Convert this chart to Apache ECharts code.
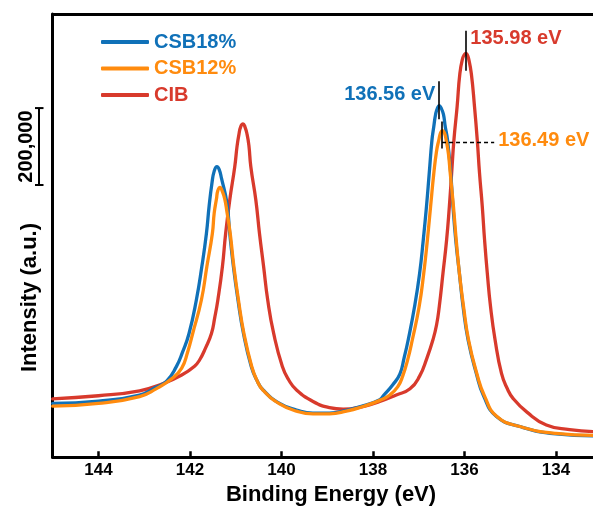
<!DOCTYPE html>
<html>
<head>
<meta charset="utf-8">
<script src="https://cdn.jsdelivr.net/npm/echarts@6/dist/echarts.min.js"></script>
<style>html,body{margin:0;padding:0;background:#fff;}#c{width:593px;height:510px;}</style>
</head>
<body>
<div id="c"></div>
<script>
// ---- data (binding energy in eV, intensity in counts) ----
const seriesNames = ['CSB18%', 'CSB12%', 'CIB'];
const xTicks = [134, 136, 138, 140, 142, 144];

const cibEnergy = [145.00,144.00,143.10,142.60,142.18,141.90,141.79,141.66,141.53,141.46,141.39,141.29,141.22,141.13,141.02,140.97,140.93,140.89,140.84,140.80,140.75,140.71,140.67,140.56,140.48,140.39,140.30,140.17,139.98,139.84,139.67,139.31,138.95,138.65,138.22,137.85,137.49,137.19,136.98,136.82,136.69,136.61,136.55,136.47,136.39,136.33,136.28,136.23,136.16,136.10,136.04,136.00,135.97,135.94,135.91,135.85,135.78,135.72,135.67,135.61,135.56,135.50,135.43,135.33,135.19,135.07,134.93,134.64,134.21,133.70,133.19];
const cibIntensity = [152000,160000,173000,191000,214000,237000,253000,284000,322000,362000,409000,496000,582000,669000,756000,809000,839000,860000,867000,860000,839000,809000,756000,669000,582000,496000,409000,322000,236000,201000,175000,145000,129000,125000,132000,145000,162000,178000,211000,258000,305000,344000,392000,478000,565000,652000,738000,825000,912000,998000,1037000,1047000,1050000,1047000,1037000,998000,912000,825000,738000,652000,565000,478000,392000,305000,218000,180000,152000,118000,84000,72000,67000];

const csb18Energy = [145.00,144.00,143.10,142.74,142.51,142.30,142.16,142.02,141.86,141.74,141.64,141.58,141.52,141.47,141.41,141.36,141.31,141.19,141.13,141.05,140.95,140.83,140.66,140.54,140.40,140.04,139.67,139.31,138.95,138.58,138.22,137.85,137.76,137.57,137.41,137.32,137.23,137.09,136.98,136.90,136.83,136.77,136.71,136.67,136.63,136.59,136.55,136.51,136.46,136.42,136.37,136.30,136.25,136.19,136.11,136.03,135.92,135.74,135.58,135.30,134.79,134.00,133.19];
const csb18Intensity = [140000,146000,162000,182000,198000,235000,274000,322000,409000,496000,582000,654000,712000,744000,756000,748000,725000,660000,582000,496000,409000,322000,236000,201000,175000,140000,123000,115000,115000,122000,134000,150000,162000,188000,217000,258000,305000,392000,478000,565000,652000,738000,825000,860000,892000,908000,914000,908000,892000,860000,825000,738000,652000,565000,478000,392000,305000,218000,159000,106000,80000,61000,56000];

const csb12Energy = [145.00,144.00,143.10,142.74,142.40,142.18,142.05,141.94,141.75,141.63,141.51,141.47,141.42,141.39,141.34,141.30,141.24,141.19,141.12,141.04,140.94,140.82,140.65,140.54,140.40,140.04,139.67,139.31,138.95,138.58,138.22,137.85,137.63,137.46,137.35,137.24,137.14,136.99,136.89,136.81,136.74,136.67,136.61,136.56,136.52,136.48,136.44,136.40,136.35,136.31,136.24,136.18,136.11,136.02,135.91,135.73,135.56,135.29,134.79,134.00,133.19];
const csb12Intensity = [133000,140000,158000,178000,204000,232000,274000,322000,409000,496000,582000,635000,672000,694000,702000,694000,672000,637000,582000,496000,409000,322000,236000,201000,174000,139000,120000,113000,113000,120000,132000,148000,162000,183000,211000,254000,305000,392000,478000,565000,652000,738000,796000,825000,844000,849000,844000,825000,789000,738000,652000,565000,478000,392000,305000,218000,159000,106000,80000,62000,57000];

// peak markers: [energy, label, intensity low, intensity high]
const peakCIB = [135.98, '135.98 eV', 1005000, 1109000];
const peak18 = [136.56, '136.56 eV', 879000, 978000];
const peak12 = [136.49, '136.49 eV', 803000, 873000];
const peak12Leader = [136.49, 135.35, 818000];
const scaleBar = [708000, 908000, '200,000'];

const COLORS = { 'CSB18%': '#1071B8', 'CSB12%': '#FF8B0E', 'CIB': '#D83A2C' };
const FONT = '"Liberation Sans", Arial, sans-serif';

function zip(a, b) { return a.map((v, i) => [v, b[i]]); }
function vline(e, lo, hi) {
  return [{ coord: [e, lo] }, { coord: [e, hi] }];
}

const chart = echarts.init(document.getElementById('c'), null, { renderer: 'canvas' });

const markBase = {
  silent: true, symbol: ['none', 'none'], label: { show: false },
  lineStyle: { color: '#000', width: 1.6, type: 'solid' }, emphasis: { disabled: true }, animation: false
};

function lineSeries(name, e, v, extra) {
  return Object.assign({
    name: name, type: 'line', data: zip(e, v), smooth: true, showSymbol: false,
    lineStyle: { width: 3.3, color: COLORS[name], cap: 'round', join: 'round' }, itemStyle: { color: COLORS[name] }
  }, extra);
}

const option = {
  animation: false,
  grid: { left: 52.7, right: 0, top: 14, bottom: 52.7, containLabel: false },
  legend: {
    orient: 'vertical', left: 96, top: 27, itemWidth: 48, itemHeight: 4, itemGap: 6.5,
    icon: 'roundRect', selectedMode: false,
    textStyle: { fontFamily: FONT, fontWeight: 'bold', fontSize: 20, lineHeight: 20 },
    data: seriesNames.map(n => ({ name: n, textStyle: { color: COLORS[n] } }))
  },
  xAxis: [{
    type: 'value', inverse: true, min: 133.19, max: 145,
    axisLine: { show: true, lineStyle: { color: '#000', width: 3 } },
    axisTick: { show: true, inside: true, length: 6, lineStyle: { color: '#000', width: 2.5 }, customValues: xTicks },
    axisLabel: { show: true, margin: 5, color: '#000', fontFamily: FONT, fontWeight: 'bold', fontSize: 17, customValues: xTicks },
    splitLine: { show: false }
  }, {
    type: 'value', position: 'top', inverse: true, min: 133.19, max: 145,
    axisLine: { show: true, lineStyle: { color: '#000', width: 3 } },
    axisTick: { show: false }, axisLabel: { show: false }, splitLine: { show: false }
  }],
  yAxis: {
    type: 'value', min: 0, max: 1152600,
    axisLine: { show: true, lineStyle: { color: '#000', width: 3 } },
    axisTick: { show: false }, axisLabel: { show: false }, splitLine: { show: false }
  },
  series: [
    lineSeries('CIB', cibEnergy, cibIntensity, {
      markLine: Object.assign({}, markBase, { data: [vline(peakCIB[0], peakCIB[2], peakCIB[3])] })
    }),
    lineSeries('CSB18%', csb18Energy, csb18Intensity, {
      markLine: Object.assign({}, markBase, { data: [vline(peak18[0], peak18[2], peak18[3])] })
    }),
    lineSeries('CSB12%', csb12Energy, csb12Intensity, {
      markLine: Object.assign({}, markBase, { data: [
        vline(peak12[0], peak12[2], peak12[3]),
        [{ coord: [peak12Leader[0], peak12Leader[2]], lineStyle: { type: [4, 3], width: 1.4, color: '#000' } },
         { coord: [peak12Leader[1], peak12Leader[2]] }]
      ] })
    })
  ]
};
chart.setOption(option);

// annotations positioned through the chart's own coordinate system
const px = (e, v) => chart.convertToPixel({ gridIndex: 0 }, [e, v]);
const pCIB = px(peakCIB[0], peakCIB[3]);
const p18 = px(peak18[0], peak18[3]);
const p12 = px(peak12Leader[1], peak12Leader[2]);
const sbTop = chart.convertToPixel({ yAxisIndex: 0 }, scaleBar[1]);
const sbBot = chart.convertToPixel({ yAxisIndex: 0 }, scaleBar[0]);
const sbX = 39;
const bold = (s) => 'bold ' + s + 'px ' + FONT;

chart.setOption({
  graphic: [
    { type: 'text', x: pCIB[0] + 5, y: pCIB[1] + 8, style: { text: peakCIB[1], fill: COLORS['CIB'], font: bold(20), align: 'left', verticalAlign: 'middle' } },
    { type: 'text', x: p18[0] - 3.5, y: p18[1] + 13, style: { text: peak18[1], fill: COLORS['CSB18%'], font: bold(20), align: 'right', verticalAlign: 'middle' } },
    { type: 'text', x: p12[0] + 4, y: p12[1] - 2.5, style: { text: peak12[1], fill: COLORS['CSB12%'], font: bold(20), align: 'left', verticalAlign: 'middle' } },
    { type: 'line', shape: { x1: sbX, y1: sbTop, x2: sbX, y2: sbBot }, style: { stroke: '#000', lineWidth: 2 } },
    { type: 'line', shape: { x1: sbX - 4, y1: sbTop, x2: sbX + 4.5, y2: sbTop }, style: { stroke: '#000', lineWidth: 2 } },
    { type: 'line', shape: { x1: sbX - 4, y1: sbBot, x2: sbX + 4.5, y2: sbBot }, style: { stroke: '#000', lineWidth: 2 } },
    { type: 'text', x: 26.5, y: (sbTop + sbBot) / 2, rotation: Math.PI / 2, style: { text: scaleBar[2], fill: '#000', font: bold(20), align: 'center', verticalAlign: 'middle' } },
    { type: 'text', x: 29.5, y: 297.5, rotation: Math.PI / 2, style: { text: 'Intensity (a.u.)', fill: '#000', font: bold(22), align: 'center', verticalAlign: 'middle' } },
    { type: 'text', x: 331, y: 495, style: { text: 'Binding Energy (eV)', fill: '#000', font: bold(22), align: 'center', verticalAlign: 'middle' } }
  ]
});
</script>
</body>
</html>
